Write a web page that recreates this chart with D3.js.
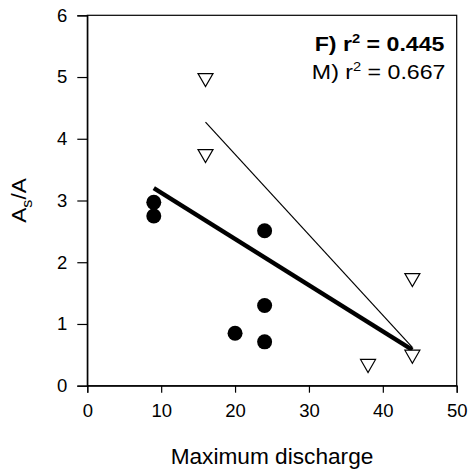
<!DOCTYPE html>
<html><head><meta charset="utf-8">
<script src="https://cdn.jsdelivr.net/npm/d3@7"></script>
<style>body{margin:0;background:#fff}svg{display:block}text{font-family:Arial,"Liberation Sans",sans-serif;fill:#000}</style>
</head><body>
<script>
// Data
const fX = [9, 9, 24, 24, 20, 24];
const fY = [2.97, 2.75, 2.51, 1.30, 0.85, 0.71];
const mX = [16, 16, 44, 44, 38];
const mY = [4.95, 3.72, 1.71, 0.47, 0.32];
const fLineX = [9, 44];
const fLineY = [3.2, 0.58];
const mLineX = [16, 44];
const mLineY = [4.27, 0.62];
const xTicks = [0, 10, 20, 30, 40, 50];
const yTicks = [0, 1, 2, 3, 4, 5, 6];

const W = 468, H = 473;
const m = {l: 87.3, r: 11.3, t: 15.3, b: 87.3};
const svg = d3.select("body").append("svg").attr("width", W).attr("height", H);
const x = d3.scaleLinear().domain([0, 50]).range([m.l, W - m.r]);
const y = d3.scaleLinear().domain([0, 6]).range([H - m.b, m.t]);

// frame
svg.append("rect").attr("x", x(0)).attr("y", y(6)).attr("width", x(50) - x(0)).attr("height", y(0) - y(6))
  .attr("fill", "none").attr("stroke", "#000").attr("stroke-width", 1.2);

const xAxis = svg.append("g").attr("transform", `translate(0,${y(0)})`)
  .call(d3.axisBottom(x).tickValues(xTicks).tickSize(7).tickPadding(13).tickFormat(d3.format("d")));
const yAxis = svg.append("g").attr("transform", `translate(${x(0)},0)`)
  .call(d3.axisLeft(y).tickValues(yTicks).tickSize(10).tickPadding(10).tickFormat(d3.format("d")));
[xAxis, yAxis].forEach(g => {
  g.select(".domain").attr("stroke", "#000").attr("stroke-width", 1.2);
  g.selectAll(".tick line").attr("stroke", "#000").attr("stroke-width", 1.2);
  g.selectAll(".tick text").style("font-size", "18.5px").attr("fill", "#000");
});
xAxis.selectAll(".tick text").attr("dy", "0.62em");

// regression lines
const line = d3.line().x(d => x(d[0])).y(d => y(d[1]));
svg.append("path").datum(mLineX.map((v, i) => [v, mLineY[i]])).attr("d", line)
  .attr("fill", "none").attr("stroke", "#000").attr("stroke-width", 1.2);
svg.append("path").datum(fLineX.map((v, i) => [v, fLineY[i]])).attr("d", line)
  .attr("fill", "none").attr("stroke", "#000").attr("stroke-width", 4.3);

// circles
svg.selectAll("circle.f").data(fX.map((v, i) => [v, fY[i]])).enter().append("circle")
  .attr("cx", d => x(d[0])).attr("cy", d => y(d[1])).attr("r", 7.5).attr("fill", "#000");

// triangles
const tw = 7.5, th = 13;
svg.selectAll("path.m").data(mX.map((v, i) => [v, mY[i]])).enter().append("path")
  .attr("d", d => {
    const cx = x(d[0]), cy = y(d[1]);
    return `M${cx - tw},${cy - th / 2}L${cx + tw},${cy - th / 2}L${cx},${cy + th / 2}Z`;
  })
  .attr("fill", "#fff").attr("stroke", "#000").attr("stroke-width", 1.2);

// annotations
const t1 = svg.append("text").attr("transform", "translate(444.5,50.5) scale(1.13,1)").attr("text-anchor", "end")
  .style("font-size", "20.5px").style("font-weight", "bold");
t1.append("tspan").text("F) r");
t1.append("tspan").attr("dy", -8).style("font-size", "13px").text("2");
t1.append("tspan").attr("dy", 8).text(" = 0.445");
const t2 = svg.append("text").attr("transform", "translate(445.5,78.5) scale(1.13,1)").attr("text-anchor", "end")
  .style("font-size", "20.5px");
t2.append("tspan").text("M) r");
t2.append("tspan").attr("dy", -8).style("font-size", "13px").text("2");
t2.append("tspan").attr("dy", 8).text(" = 0.667");

// axis titles
svg.append("text").attr("transform", `translate(${(x(0) + x(50)) / 2},464) scale(1.03,1)`).attr("text-anchor", "middle")
  .style("font-size", "22px").text("Maximum discharge");
const yt = svg.append("text").attr("transform", `translate(26,${(y(0) + y(6)) / 2}) rotate(-90) scale(1.08,1)`)
  .attr("text-anchor", "middle").style("font-size", "21px");
yt.append("tspan").text("A");
yt.append("tspan").attr("dy", 6).style("font-size", "15px").text("s");
yt.append("tspan").attr("dy", -6).text("/A");
</script>
</body></html>
